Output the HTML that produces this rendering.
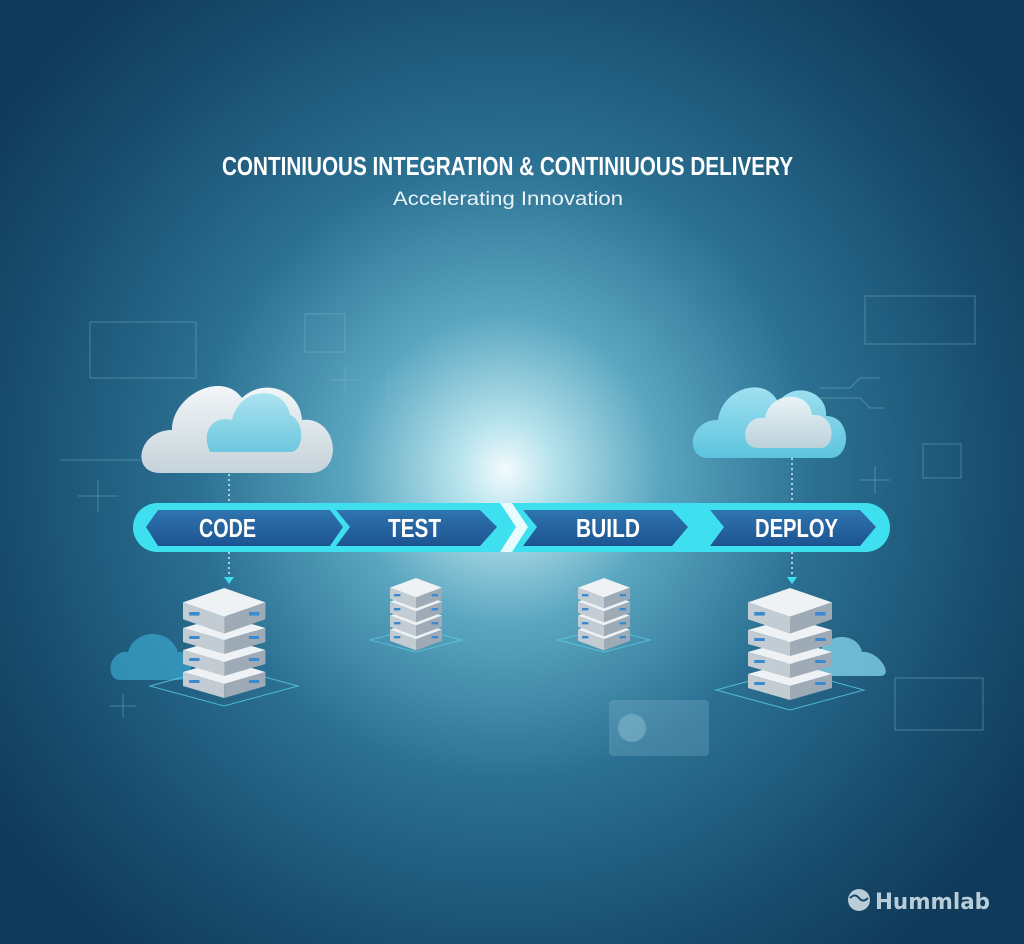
<!DOCTYPE html>
<html><head><meta charset="utf-8"><style>
body{margin:0;width:1024px;height:944px;overflow:hidden;background:#123d5c}
svg{display:block}
</style></head><body>
<svg width="1024" height="944" viewBox="0 0 1024 944" xmlns="http://www.w3.org/2000/svg">
<defs>
<radialGradient id="bg" cx="505" cy="470" r="620" gradientUnits="userSpaceOnUse">
<stop offset="0" stop-color="#f2fbfd"/>
<stop offset="0.08" stop-color="#b5e2ec"/>
<stop offset="0.25" stop-color="#5aa6c0"/>
<stop offset="0.5" stop-color="#2b7092"/>
<stop offset="0.8" stop-color="#184d6e"/>
<stop offset="1" stop-color="#103a5a"/>
</radialGradient>
<linearGradient id="chev" x1="0" y1="0" x2="0" y2="1">
<stop offset="0" stop-color="#2f74b0"/><stop offset="1" stop-color="#1d5490"/>
</linearGradient>
<linearGradient id="cl" x1="0" y1="0" x2="0" y2="1">
<stop offset="0" stop-color="#f2f6f8"/><stop offset="1" stop-color="#c5d3da"/>
</linearGradient>
<linearGradient id="cl2" x1="0" y1="0" x2="0" y2="1">
<stop offset="0" stop-color="#9fe0f0"/><stop offset="1" stop-color="#5cc4de"/>
</linearGradient>
<g id="srv">
<polygon points="0,12 40,0 80,12 40,24" fill="#eef2f5"/>
<polygon points="0,12 40,24 40,38 0,26" fill="#c3ccd3"/>
<polygon points="80,12 40,24 40,38 80,26" fill="#9eabb6"/>
<rect x="6" y="20" width="10" height="3" fill="#3a8ad0"/>
<rect x="64" y="20" width="10" height="3" fill="#3a8ad0"/>
</g>
</defs>
<rect width="1024" height="944" fill="url(#bg)"/>
<g stroke="#7fb8cc" stroke-opacity="0.45" fill="none" stroke-width="1">
<rect x="90" y="322" width="106" height="56"/>
<rect x="305" y="314" width="40" height="38"/>
<rect x="865" y="296" width="110" height="48"/>
<rect x="895" y="678" width="88" height="52"/>
<rect x="923" y="444" width="38" height="34"/>
<path d="M330 380h30M345 366v28M370 384h35M388 372v30M860 480h30M875 466v28M110 706h26M123 694v24M78 496h40M98 480v32"/>
<path d="M60 460h80M820 388h30l10-10h20M820 398h40l10 10h15"/>
</g>
<rect x="609" y="700" width="100" height="56" rx="4" fill="#8fc3d6" fill-opacity="0.25"/>
<circle cx="632" cy="728" r="14" fill="#a8d8e8" fill-opacity="0.35"/>
<text x="222" y="175" textLength="571" lengthAdjust="spacingAndGlyphs" font-family="Liberation Sans, sans-serif" font-weight="bold" font-size="26" fill="#ffffff">CONTINIUOUS INTEGRATION &amp; CONTINIUOUS DELIVERY</text>
<text x="393" y="205" textLength="230" lengthAdjust="spacingAndGlyphs" font-family="Liberation Sans, sans-serif" font-size="19" fill="#eaf4f8">Accelerating Innovation</text>
<g>
<path d="M160 473 C130 473 138 430 172 430 C172 395 222 370 242 398 C262 378 300 388 302 420 C338 416 345 473 310 473 Z" fill="url(#cl)"/>
<path d="M210 452 C200 430 215 415 232 420 C240 385 285 385 290 415 C305 420 305 452 290 452 Z" fill="url(#cl2)" opacity="0.85"/>
<path d="M708 458 C685 458 688 420 718 420 C722 388 765 375 778 402 C795 380 828 392 826 416 C852 416 852 458 830 458 Z" fill="url(#cl2)"/>
<path d="M758 448 C738 448 742 415 765 418 C770 390 810 390 812 415 C835 412 838 448 820 448 Z" fill="url(#cl)" opacity="0.9"/>
<path d="M120 680 C105 680 108 650 128 652 C135 628 170 628 178 652 C195 650 195 680 180 680Z" fill="#3aa7cc" opacity="0.7"/>
<path d="M815 676 C800 676 803 652 820 652 C826 632 858 632 862 652 C878 650 895 676 880 676Z" fill="#7fd0e6" opacity="0.8"/>
</g>
<g stroke="#cfeaf2" stroke-dasharray="2,3" stroke-width="1.5">
<line x1="229" y1="474" x2="229" y2="504"/>
<line x1="229" y1="552" x2="229" y2="580"/>
<line x1="792" y1="458" x2="792" y2="504"/>
<line x1="792" y1="552" x2="792" y2="580"/>
</g>
<polygon points="224,577 234,577 229,584" fill="#3ee0f0"/>
<polygon points="787,577 797,577 792,584" fill="#3ee0f0"/>
<rect x="133" y="503" width="757" height="49" rx="24.5" fill="#3ee0f0"/>
<polygon points="146,527 158,510 330,510 343,527 330,546 158,546" fill="url(#chev)"/>
<polygon points="336,510 480,510 497,527 480,546 336,546 350,527" fill="url(#chev)"/>
<polygon points="523,510 672,510 688,527 672,546 523,546 537,527" fill="url(#chev)"/>
<polygon points="710,510 860,510 876,527 860,546 710,546 724,527" fill="url(#chev)"/>
<polygon points="500,503 512,503 528,527 512,552 500,552 516,527" fill="#e8fbff"/>
<g font-family="Liberation Sans, sans-serif" font-weight="bold" font-size="26" fill="#fff" lengthAdjust="spacingAndGlyphs">
<text x="199" y="537" textLength="57" lengthAdjust="spacingAndGlyphs">CODE</text>
<text x="388" y="537" textLength="53" lengthAdjust="spacingAndGlyphs">TEST</text>
<text x="576" y="537" textLength="64" lengthAdjust="spacingAndGlyphs">BUILD</text>
<text x="755" y="537" textLength="83" lengthAdjust="spacingAndGlyphs">DEPLOY</text>
</g>
<g>
<polygon points="150,686 224,666 298,686 224,706" fill="none" stroke="#5fdcef" stroke-opacity="0.7"/>
<use href="#srv" transform="translate(183,660) scale(1.03,1)"/>
<use href="#srv" transform="translate(183,638) scale(1.03,1)"/>
<use href="#srv" transform="translate(183,616) scale(1.03,1)"/>
<use href="#srv" transform="translate(183,588) scale(1.03,1.2)"/>
<polygon points="370,640 416,628 462,640 416,652" fill="none" stroke="#5fdcef" stroke-opacity="0.6"/>
<use href="#srv" transform="translate(390,620) scale(0.65,0.8)"/>
<use href="#srv" transform="translate(390,606) scale(0.65,0.8)"/>
<use href="#srv" transform="translate(390,592) scale(0.65,0.8)"/>
<use href="#srv" transform="translate(390,578) scale(0.65,0.8)"/>
<polygon points="558,640 604,628 650,640 604,652" fill="none" stroke="#5fdcef" stroke-opacity="0.6"/>
<use href="#srv" transform="translate(578,620) scale(0.65,0.8)"/>
<use href="#srv" transform="translate(578,606) scale(0.65,0.8)"/>
<use href="#srv" transform="translate(578,592) scale(0.65,0.8)"/>
<use href="#srv" transform="translate(578,578) scale(0.65,0.8)"/>
<polygon points="716,690 790,670 864,690 790,710" fill="none" stroke="#5fdcef" stroke-opacity="0.7"/>
<use href="#srv" transform="translate(748,662) scale(1.05,1)"/>
<use href="#srv" transform="translate(748,640) scale(1.05,1)"/>
<use href="#srv" transform="translate(748,618) scale(1.05,1)"/>
<use href="#srv" transform="translate(748,588) scale(1.05,1.2)"/>
</g>
<circle cx="859" cy="900" r="11" fill="#b8cdd8"/>
<path d="M850 898 q5 -5 9 0 q4 5 9 0" stroke="#1a4a6a" stroke-width="2" fill="none"/>
<text x="875" y="909" textLength="115" lengthAdjust="spacingAndGlyphs" font-family="DejaVu Sans, Liberation Sans, sans-serif" font-weight="bold" font-size="22" fill="#b8cdd8">Hummlab</text>
</svg>
</body></html>
